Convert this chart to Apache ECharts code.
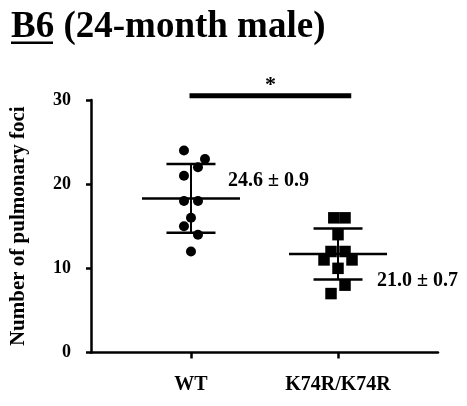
<!DOCTYPE html>
<html>
<head>
<meta charset="utf-8">
<script src="https://cdn.jsdelivr.net/npm/echarts@6/dist/echarts.min.js"></script>
<style>html,body{margin:0;padding:0;background:#fff;}#c{width:467px;height:406px;}</style>
</head>
<body>
<div id="c"></div>
<script>
// ---- data ----
const categories = ['WT', 'K74R/K74R'];
const wtValues = [24, 23, 22, 21, 18, 18, 16, 15, 14, 12];
const wtJitter = [-1, 2, 1, -1, -1, 1, 0, -1, 1, 0];
const koValues = [16, 16, 14, 12, 12, 11, 11, 10, 8, 7];
const koJitter = [-0.6, 1, 0, -1, 1, -2, 2, 0, 1, -1];
const annotations = ['24.6 ± 0.9', '21.0 ± 0.7'];
const yTicks = [0, 10, 20, 30];
const sigStar = '*';
const sigSpan = [0.99, 2.09];
const sigLevel = 30.5;

const FONT = '"Liberation Serif", "Times New Roman", serif';
const COL = 0.0476; // jitter column width in x units

function stats(a) {
  const n = a.length;
  const m = a.reduce((s, v) => s + v, 0) / n;
  const sd = Math.sqrt(a.reduce((s, v) => s + (v - m) * (v - m), 0) / (n - 1));
  return [m, sd];
}
const groups = [wtValues, koValues];
const summary = groups.map((g, i) => {
  const st = stats(g);
  return [i + 1, st[0], st[1], i];
});
const wtPts = wtValues.map((v, i) => [1 + wtJitter[i] * COL, v]);
const koPts = koValues.map((v, i) => [2 + koJitter[i] * COL, v]);

const labelOffsets = [[37, -18], [39, 27]];

const chart = echarts.init(document.getElementById('c'), null, {renderer: 'canvas'});
chart.setOption({
  animation: false,
  backgroundColor: '#fff',
  title: {
    text: '{u|B6} (24-month male)',
    left: 11, top: 9, padding: 0,
    textStyle: {
      fontFamily: FONT, fontWeight: 'bold', fontSize: 37, color: '#000',
      rich: {u: {fontFamily: FONT, fontWeight: 'bold', fontSize: 37, color: '#000'}}
    }
  },
  graphic: [
    {type: 'rect', shape: {x: 11, y: 41.5, width: 42, height: 2.5}, style: {fill: '#000'}}
  ],
  grid: {left: 91, right: 29, top: 100, bottom: 53.5, containLabel: false},
  xAxis: {
    type: 'value', min: 0.32, max: 2.68,
    splitLine: {show: false},
    axisLine: {show: true, lineStyle: {color: '#000', width: 2.5}},
    axisTick: {show: true, customValues: [1, 2], length: 6, lineStyle: {color: '#000', width: 2.5}},
    axisLabel: {
      show: true, customValues: [1, 2], margin: 22,
      formatter: v => categories[Math.round(v) - 1] || '',
      fontFamily: FONT, fontWeight: 'bold', fontSize: 20, color: '#000'
    }
  },
  yAxis: {
    type: 'value', min: 0, max: 30, interval: 10,
    splitLine: {show: false},
    axisLine: {show: true, lineStyle: {color: '#000', width: 2.5}},
    axisTick: {show: true, length: 5, lineStyle: {color: '#000', width: 2.5}},
    axisLabel: {
      margin: 20, fontFamily: FONT, fontWeight: 'bold', fontSize: 18, color: '#000',
      formatter: v => yTicks.indexOf(v) >= 0 ? String(v) : ''
    },
    name: 'Number of pulmonary foci',
    nameLocation: 'middle', nameGap: 62,
    nameTextStyle: {fontFamily: FONT, fontWeight: 'bold', fontSize: 21, color: '#000'}
  },
  series: [
    {
      type: 'custom', z: 2, clip: false,
      data: summary,
      renderItem: function (params, api) {
        const x = api.value(0), m = api.value(1), s = api.value(2), gi = api.value(3);
        const c = api.coord([x, m]);
        const t = api.coord([x, m + s]);
        const b = api.coord([x, m - s]);
        const hm = 49, hc = 24.5;
        const st = {stroke: '#000', lineWidth: 2.5};
        const off = labelOffsets[gi];
        return {type: 'group', children: [
          {type: 'line', shape: {x1: c[0] - hm, y1: c[1], x2: c[0] + hm, y2: c[1]}, style: st},
          {type: 'line', shape: {x1: t[0], y1: t[1], x2: b[0], y2: b[1]}, style: {stroke: '#000', lineWidth: 2}},
          {type: 'line', shape: {x1: t[0] - hc, y1: t[1], x2: t[0] + hc, y2: t[1]}, style: st},
          {type: 'line', shape: {x1: b[0] - hc, y1: b[1], x2: b[0] + hc, y2: b[1]}, style: st},
          {type: 'text', x: c[0] + off[0], y: c[1] + off[1], style: {
            text: annotations[gi], fill: '#000', font: 'bold 20px ' + FONT,
            align: 'left', verticalAlign: 'middle'
          }}
        ]};
      }
    },
    {
      type: 'custom', z: 2, clip: false,
      data: [[sigSpan[0], sigSpan[1], sigLevel]],
      renderItem: function (params, api) {
        const p1 = api.coord([api.value(0), api.value(2)]);
        const p2 = api.coord([api.value(1), api.value(2)]);
        return {type: 'group', children: [
          {type: 'rect', shape: {x: p1[0], y: p1[1] - 2.5, width: p2[0] - p1[0], height: 5}, style: {fill: '#000'}},
          {type: 'text', x: (p1[0] + p2[0]) / 2, y: p1[1] - 10, style: {
            text: sigStar, fill: '#000', font: 'bold 22px ' + FONT, align: 'center', verticalAlign: 'middle'
          }}
        ]};
      }
    },
    {
      type: 'scatter', z: 3, symbol: 'circle', symbolSize: 10,
      itemStyle: {color: '#000', opacity: 1},
      data: wtPts
    },
    {
      type: 'scatter', z: 3, symbol: 'rect', symbolSize: 11.5,
      itemStyle: {color: '#000', opacity: 1},
      data: koPts
    }
  ]
});
</script>
</body>
</html>
